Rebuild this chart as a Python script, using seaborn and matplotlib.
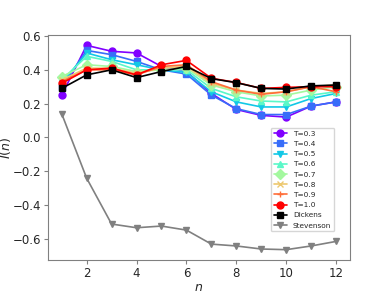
import pandas as pd
import matplotlib.pyplot as plt
import seaborn as sns
import numpy as np

sns.set_style('ticks')

n = list(range(1, 13))

t03 = [0.25, 0.545, 0.51, 0.50, 0.42, 0.39, 0.26, 0.165, 0.13, 0.12, 0.185, 0.21]
t04 = [0.30, 0.515, 0.49, 0.45, 0.40, 0.375, 0.25, 0.17, 0.135, 0.135, 0.185, 0.21]
t05 = [0.32, 0.50, 0.46, 0.43, 0.40, 0.385, 0.27, 0.21, 0.18, 0.18, 0.23, 0.26]
t06 = [0.34, 0.48, 0.45, 0.40, 0.40, 0.40, 0.29, 0.24, 0.215, 0.21, 0.25, 0.27]
t07 = [0.36, 0.43, 0.42, 0.39, 0.40, 0.41, 0.31, 0.27, 0.245, 0.25, 0.28, 0.30]
t08 = [0.34, 0.41, 0.41, 0.38, 0.41, 0.42, 0.32, 0.28, 0.26, 0.27, 0.30, 0.31]
t09 = [0.33, 0.40, 0.40, 0.37, 0.42, 0.43, 0.33, 0.28, 0.255, 0.27, 0.30, 0.27]
t10 = [0.32, 0.40, 0.41, 0.37, 0.43, 0.456, 0.35, 0.325, 0.29, 0.296, 0.30, 0.30]
dickens = [0.29, 0.37, 0.40, 0.354, 0.39, 0.42, 0.348, 0.324, 0.29, 0.286, 0.305, 0.31]
stevenson = [0.14, -0.242, -0.514, -0.536, -0.526, -0.55, -0.633, -0.644, -0.662, -0.666, -0.644, -0.617]

labels = ['T=0.3', 'T=0.4', 'T=0.5', 'T=0.6', 'T=0.7', 'T=0.8', 'T=0.9', 'T=1.0', 'Dickens', 'Stevenson']
series = [t03, t04, t05, t06, t07, t08, t09, t10, dickens, stevenson]
markers = ['o', 's', 'v', '^', 'D', 'x', '+', 'o', 's', 'v']
colors = list(plt.cm.rainbow(np.linspace(0, 1, 8))) + ['black', 'gray']

fig = plt.figure(figsize=(3.9, 2.93), dpi=100)
ax = fig.add_axes([0.123, 0.113, 0.774, 0.767])

for lab, vals, mk, col in zip(labels, series, markers, colors):
    df = pd.DataFrame({'n': n, 'I': vals})
    sns.lineplot(data=df, x='n', y='I', ax=ax, color=col, marker=mk, label=lab,
                 markersize=5, linewidth=1.2, markeredgecolor=col, markeredgewidth=1)

ax.set_xticks([2, 4, 6, 8, 10, 12])
ax.set_yticks([-0.6, -0.4, -0.2, 0.0, 0.2, 0.4, 0.6])
ax.tick_params(labelsize=8.5, color='gray', length=3, pad=2)
for s in ax.spines.values():
    s.set_color('gray')
ax.set_xlabel('$n$', fontsize=9, labelpad=1)
ax.set_ylabel('$I(n)$', fontsize=9, labelpad=0)
ax.legend(loc='lower right', bbox_to_anchor=(0.96, 0.11), fontsize=5.3,
          handlelength=1.8, labelspacing=0.55, borderpad=0.4)

fig.savefig('out.png', dpi=100)
